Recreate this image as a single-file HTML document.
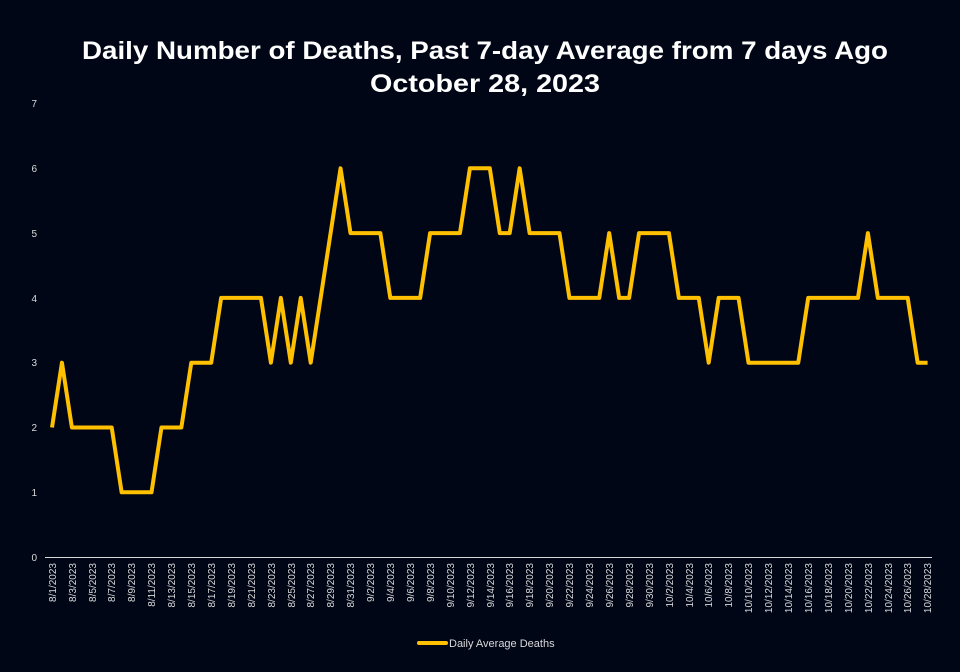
<!DOCTYPE html>
<html><head><meta charset="utf-8"><style>
html,body{margin:0;padding:0;background:#000616;}
svg{display:block;}
text{font-family:"Liberation Sans",sans-serif;}
</style></head><body>
<svg width="960" height="672" viewBox="0 0 960 672" xmlns="http://www.w3.org/2000/svg">
<rect width="960" height="672" fill="#000616"/>
<text x="485" y="59" text-anchor="middle" font-size="25" font-weight="bold" fill="#fff" textLength="806" lengthAdjust="spacingAndGlyphs">Daily Number of Deaths, Past 7-day Average from 7 days Ago</text>
<text x="485" y="92" text-anchor="middle" font-size="25" font-weight="bold" fill="#fff" textLength="230" lengthAdjust="spacingAndGlyphs">October 28, 2023</text>
<g font-size="10" fill="#d9d9d9" text-anchor="end">
<text x="37" y="561">0</text><text x="37" y="496">1</text><text x="37" y="431">2</text><text x="37" y="366">3</text><text x="37" y="302">4</text><text x="37" y="237">5</text><text x="37" y="172">6</text><text x="37" y="107">7</text>
</g>
<line x1="45" y1="557.5" x2="932" y2="557.5" stroke="#d9d9d9" stroke-width="1"/>
<polyline fill="none" stroke="#ffc000" stroke-width="4" stroke-linejoin="round" vector-effect="non-scaling-stroke" transform="translate(52,557.1) scale(9.95,-64.8)" points="0,2 1,3 2,2 6,2 7,1 10,1 11,2 13,2 14,3 16,3 17,4 21,4 22,3 23,4 24,3 25,4 26,3 27,4 28,5 29,6 30,5 33,5 34,4 37,4 38,5 41,5 42,6 44,6 45,5 46,5 47,6 48,5 51,5 52,4 55,4 56,5 57,4 58,4 59,5 62,5 63,4 65,4 66,3 67,4 69,4 70,3 75,3 76,4 81,4 82,5 83,4 86,4 87,3 88,3"/>
<g font-size="10" fill="#d9d9d9" text-anchor="end">
<text transform="translate(56,563) rotate(-90)">8/1/2023</text>
<text transform="translate(76,563) rotate(-90)">8/3/2023</text>
<text transform="translate(96,563) rotate(-90)">8/5/2023</text>
<text transform="translate(115,563) rotate(-90)">8/7/2023</text>
<text transform="translate(135,563) rotate(-90)">8/9/2023</text>
<text transform="translate(155,563) rotate(-90)">8/11/2023</text>
<text transform="translate(175,563) rotate(-90)">8/13/2023</text>
<text transform="translate(195,563) rotate(-90)">8/15/2023</text>
<text transform="translate(215,563) rotate(-90)">8/17/2023</text>
<text transform="translate(235,563) rotate(-90)">8/19/2023</text>
<text transform="translate(255,563) rotate(-90)">8/21/2023</text>
<text transform="translate(275,563) rotate(-90)">8/23/2023</text>
<text transform="translate(295,563) rotate(-90)">8/25/2023</text>
<text transform="translate(314,563) rotate(-90)">8/27/2023</text>
<text transform="translate(334,563) rotate(-90)">8/29/2023</text>
<text transform="translate(354,563) rotate(-90)">8/31/2023</text>
<text transform="translate(374,563) rotate(-90)">9/2/2023</text>
<text transform="translate(394,563) rotate(-90)">9/4/2023</text>
<text transform="translate(414,563) rotate(-90)">9/6/2023</text>
<text transform="translate(434,563) rotate(-90)">9/8/2023</text>
<text transform="translate(454,563) rotate(-90)">9/10/2023</text>
<text transform="translate(474,563) rotate(-90)">9/12/2023</text>
<text transform="translate(494,563) rotate(-90)">9/14/2023</text>
<text transform="translate(513,563) rotate(-90)">9/16/2023</text>
<text transform="translate(533,563) rotate(-90)">9/18/2023</text>
<text transform="translate(553,563) rotate(-90)">9/20/2023</text>
<text transform="translate(573,563) rotate(-90)">9/22/2023</text>
<text transform="translate(593,563) rotate(-90)">9/24/2023</text>
<text transform="translate(613,563) rotate(-90)">9/26/2023</text>
<text transform="translate(633,563) rotate(-90)">9/28/2023</text>
<text transform="translate(653,563) rotate(-90)">9/30/2023</text>
<text transform="translate(673,563) rotate(-90)">10/2/2023</text>
<text transform="translate(693,563) rotate(-90)">10/4/2023</text>
<text transform="translate(712,563) rotate(-90)">10/6/2023</text>
<text transform="translate(732,563) rotate(-90)">10/8/2023</text>
<text transform="translate(752,563) rotate(-90)">10/10/2023</text>
<text transform="translate(772,563) rotate(-90)">10/12/2023</text>
<text transform="translate(792,563) rotate(-90)">10/14/2023</text>
<text transform="translate(812,563) rotate(-90)">10/16/2023</text>
<text transform="translate(832,563) rotate(-90)">10/18/2023</text>
<text transform="translate(852,563) rotate(-90)">10/20/2023</text>
<text transform="translate(872,563) rotate(-90)">10/22/2023</text>
<text transform="translate(892,563) rotate(-90)">10/24/2023</text>
<text transform="translate(911,563) rotate(-90)">10/26/2023</text>
<text transform="translate(931,563) rotate(-90)">10/28/2023</text>
</g>
<line x1="419" y1="643" x2="446" y2="643" stroke="#ffc000" stroke-width="4" stroke-linecap="round"/>
<text x="449" y="647" font-size="11" fill="#d9d9d9">Daily Average Deaths</text>
</svg>
</body></html>
